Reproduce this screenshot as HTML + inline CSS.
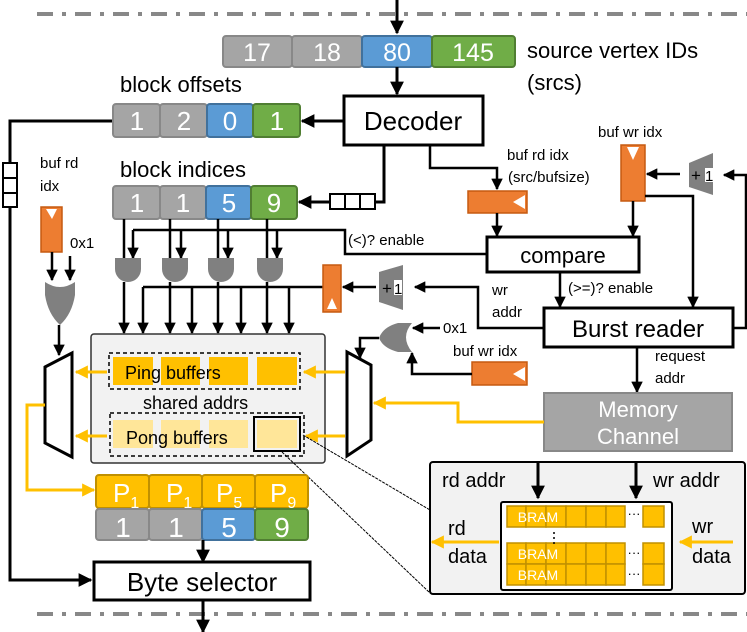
<!DOCTYPE html>
<html><head><meta charset="utf-8"><style>
html,body{margin:0;padding:0;background:#fff}
svg{display:block;font-family:"Liberation Sans",Arial,sans-serif}
</style></head><body>
<svg width="747" height="632" viewBox="0 0 747 632" xmlns="http://www.w3.org/2000/svg">
<defs>
<marker id="a" viewBox="0 0 10 10" refX="9" refY="5" markerWidth="4.6" markerHeight="4.6" orient="auto-start-reverse" markerUnits="strokeWidth"><path d="M0,0L10,5L0,10z" fill="#000"/></marker>
<marker id="y" viewBox="0 0 10 10" refX="9" refY="5" markerWidth="4.4" markerHeight="4.4" orient="auto-start-reverse" markerUnits="strokeWidth"><path d="M0,0L10,5L0,10z" fill="#ffc000"/></marker>
</defs>
<line x1="37" y1="14" x2="747" y2="14" stroke="#888" stroke-width="4" stroke-dasharray="16,9,4,9"/>
<line x1="37" y1="614" x2="747" y2="614" stroke="#888" stroke-width="4" stroke-dasharray="16,9,4,9"/>
<line x1="397" y1="0" x2="397" y2="33" stroke="#000" stroke-width="3" marker-end="url(#a)"/>
<g stroke-width="2">
<rect x="223" y="36" width="69" height="31" rx="3" fill="#a5a5a5" stroke="#888"/>
<rect x="292" y="36" width="70" height="31" rx="3" fill="#a5a5a5" stroke="#888"/>
<rect x="362" y="36" width="70" height="31" rx="3" fill="#5b9bd5" stroke="#41719c"/>
<rect x="432" y="36" width="83" height="31" rx="3" fill="#70ad47" stroke="#507e32"/>
</g>
<g fill="#fff" font-size="25" text-anchor="middle">
<text x="257" y="61">17</text><text x="327" y="61">18</text><text x="397" y="61">80</text><text x="473" y="61">145</text>
</g>
<text x="527" y="58" font-size="22">source vertex IDs</text>
<text x="527" y="90" font-size="22">(srcs)</text>
<line x1="397" y1="67" x2="397" y2="94" stroke="#000" stroke-width="3" marker-end="url(#a)"/>
<rect x="344" y="96" width="139" height="49" fill="#fff" stroke="#000" stroke-width="3"/>
<text x="413" y="130" font-size="26" text-anchor="middle">Decoder</text>
<text x="120" y="92" font-size="22">block offsets</text>
<g stroke-width="2">
<rect x="113" y="104" width="47" height="33" rx="3" fill="#a5a5a5" stroke="#888"/>
<rect x="160" y="104" width="47" height="33" rx="3" fill="#a5a5a5" stroke="#888"/>
<rect x="207" y="104" width="46" height="33" rx="3" fill="#5b9bd5" stroke="#41719c"/>
<rect x="253" y="104" width="47" height="33" rx="3" fill="#70ad47" stroke="#507e32"/>
</g>
<g fill="#fff" font-size="26" text-anchor="middle">
<text x="137" y="130">1</text><text x="184" y="130">2</text><text x="230" y="130">0</text><text x="277" y="130">1</text>
</g>
<line x1="343" y1="121" x2="302" y2="121" stroke="#000" stroke-width="3" marker-end="url(#a)"/>
<polyline points="112,121 10,121 10,580 91,580" fill="none" stroke="#000" stroke-width="3" marker-end="url(#a)"/>
<g fill="#fff" stroke="#000" stroke-width="2"><rect x="3" y="163" width="14" height="15"/><rect x="3" y="178" width="14" height="15"/><rect x="3" y="193" width="14" height="14"/></g>
<text x="120" y="177" font-size="22">block indices</text>
<g stroke-width="2">
<rect x="113" y="186" width="47" height="33" rx="3" fill="#a5a5a5" stroke="#888"/>
<rect x="160" y="186" width="46" height="33" rx="3" fill="#a5a5a5" stroke="#888"/>
<rect x="206" y="186" width="45" height="33" rx="3" fill="#5b9bd5" stroke="#41719c"/>
<rect x="251" y="186" width="46" height="33" rx="3" fill="#70ad47" stroke="#507e32"/>
</g>
<g fill="#fff" font-size="26" text-anchor="middle">
<text x="137" y="212">1</text><text x="183" y="212">1</text><text x="229" y="212">5</text><text x="274" y="212">9</text>
</g>
<polyline points="384,145 384,202 375,202" fill="none" stroke="#000" stroke-width="3"/>
<g fill="#fff" stroke="#000" stroke-width="2"><rect x="330" y="194" width="15" height="15"/><rect x="345" y="194" width="15" height="15"/><rect x="360" y="194" width="15" height="15"/></g>
<line x1="330" y1="202" x2="299" y2="202" stroke="#000" stroke-width="3" marker-end="url(#a)"/>
<polyline points="430,145 430,168 497,168 497,189" fill="none" stroke="#000" stroke-width="2.5" marker-end="url(#a)"/>
<text x="507" y="160" font-size="15">buf rd idx</text>
<text x="508" y="182" font-size="15">(src/bufsize)</text>
<rect x="468" y="191" width="59" height="22" fill="#ed7d31" stroke="#c55a11" stroke-width="1.5"/>
<path d="M525,195 L513,202 L525,209z" fill="#fff"/>
<line x1="497" y1="213" x2="497" y2="236" stroke="#000" stroke-width="2.5" marker-end="url(#a)"/>
<rect x="487" y="237" width="152" height="35" fill="#fff" stroke="#000" stroke-width="3"/>
<text x="563" y="263" font-size="22" text-anchor="middle">compare</text>
<text x="348" y="245" font-size="15">(&lt;)? enable</text>
<polyline points="486,254 345,254 345,230 133,230" fill="none" stroke="#000" stroke-width="2.5"/>
<g stroke="#000" stroke-width="2.5" marker-end="url(#a)">
<line x1="133" y1="230" x2="133" y2="258"/><line x1="181" y1="230" x2="181" y2="258"/><line x1="228" y1="230" x2="228" y2="258"/><line x1="277" y1="230" x2="277" y2="258"/>
</g>
<g stroke="#000" stroke-width="2.5" fill="none">
<line x1="124" y1="219" x2="124" y2="258"/><line x1="170" y1="219" x2="170" y2="258"/><line x1="218" y1="219" x2="218" y2="258"/><line x1="267" y1="219" x2="267" y2="258"/>
</g>
<g fill="#808080">
<path d="M115,258 H141 V269 A13,13 0 0 1 115,269 Z"/>
<path d="M162,258 H188 V269 A13,13 0 0 1 162,269 Z"/>
<path d="M208,258 H234 V269 A13,13 0 0 1 208,269 Z"/>
<path d="M257,258 H283 V269 A13,13 0 0 1 257,269 Z"/>
</g>
<polyline points="323,287 143,287" fill="none" stroke="#000" stroke-width="2.5"/>
<g stroke="#000" stroke-width="2.5" marker-end="url(#a)">
<line x1="124" y1="282" x2="124" y2="333"/><line x1="170" y1="282" x2="170" y2="333"/><line x1="218" y1="282" x2="218" y2="333"/><line x1="267" y1="282" x2="267" y2="333"/>
<line x1="143" y1="287" x2="143" y2="333"/><line x1="192" y1="287" x2="192" y2="333"/><line x1="241" y1="287" x2="241" y2="333"/><line x1="289" y1="287" x2="289" y2="333"/>
</g>
<rect x="323" y="265" width="18" height="47" fill="#ed7d31" stroke="#c55a11" stroke-width="1.5"/>
<path d="M327,309 L332,298 L337,309z" fill="#fff"/>
<path d="M379,272 L403,265 L403,310 L379,302 Z" fill="#808080"/>
<text x="382" y="294" font-size="17">+</text><rect x="394" y="280" width="8" height="15" fill="#fff"/><text x="394" y="294" font-size="15">1</text>
<line x1="376" y1="287" x2="343" y2="287" stroke="#000" stroke-width="2.5" marker-end="url(#a)"/>
<polyline points="543,328 478,328 478,287 415,287" fill="none" stroke="#000" stroke-width="2.5" marker-end="url(#a)"/>
<text x="492" y="295" font-size="15">wr</text>
<text x="492" y="317" font-size="15">addr</text>
<line x1="560" y1="272" x2="560" y2="307" stroke="#000" stroke-width="2.5" marker-end="url(#a)"/>
<text x="568" y="293" font-size="15">(&gt;=)? enable</text>
<rect x="544" y="308" width="189" height="39" fill="#fff" stroke="#000" stroke-width="3"/>
<text x="638" y="337" font-size="24" text-anchor="middle">Burst reader</text>
<text x="598" y="137" font-size="15">buf wr idx</text>
<rect x="621" y="145" width="24" height="56" fill="#ed7d31" stroke="#c55a11" stroke-width="1.5"/>
<path d="M627,147 L633,160 L639,147z" fill="#fff"/>
<path d="M689,163 L713,153 L713,195 L689,187 Z" fill="#808080"/>
<text x="691" y="181" font-size="17">+</text><rect x="705" y="168" width="8" height="14" fill="#fff"/><text x="705" y="181" font-size="15">1</text>
<line x1="680" y1="174" x2="647" y2="174" stroke="#000" stroke-width="2.5" marker-end="url(#a)"/>
<polyline points="733,328 746,328 746,175 724,175" fill="none" stroke="#000" stroke-width="2.5" marker-end="url(#a)"/>
<line x1="633" y1="201" x2="633" y2="236" stroke="#000" stroke-width="2.5" marker-end="url(#a)"/>
<polyline points="645,196 693,196 693,307" fill="none" stroke="#000" stroke-width="2.5" marker-end="url(#a)"/>
<line x1="637" y1="347" x2="637" y2="392" stroke="#000" stroke-width="2.5" marker-end="url(#a)"/>
<text x="655" y="361" font-size="15">request</text>
<text x="655" y="383" font-size="15">addr</text>
<rect x="544" y="393" width="188" height="58" fill="#a5a5a5" stroke="#888" stroke-width="2"/>
<text x="638" y="417" font-size="22" fill="#fff" text-anchor="middle">Memory</text>
<text x="638" y="444" font-size="22" fill="#fff" text-anchor="middle">Channel</text>
<polyline points="544,422 458,422 458,403 374,403" fill="none" stroke="#ffc000" stroke-width="3" marker-end="url(#y)"/>
<path d="M412,323 Q400,337 412,352 L398,352 Q383,348 379,338 Q383,327 398,323 Z" fill="#808080"/>
<text x="443" y="333" font-size="15">0x1</text>
<line x1="440" y1="328" x2="413" y2="328" stroke="#000" stroke-width="2.5" marker-end="url(#a)"/>
<text x="453" y="356" font-size="15">buf wr idx</text>
<rect x="472" y="362" width="55" height="23" fill="#ed7d31" stroke="#c55a11" stroke-width="1.5"/>
<path d="M525,367 L513,374 L525,381z" fill="#fff"/>
<polyline points="472,374 412,374 412,353" fill="none" stroke="#000" stroke-width="2.5" marker-end="url(#a)"/>
<polyline points="379,338 360,338 360,358" fill="none" stroke="#000" stroke-width="2.5" marker-end="url(#a)"/>
<path d="M347,352 L371,365 L371,440 L347,456 Z" fill="#fff" stroke="#000" stroke-width="3"/>
<text x="40" y="168" font-size="15">buf rd</text>
<text x="40" y="191" font-size="15">idx</text>
<rect x="41" y="207" width="21" height="45" fill="#ed7d31" stroke="#c55a11" stroke-width="1.5"/>
<path d="M46,209 L52,219 L57,209z" fill="#fff"/>
<text x="70" y="248" font-size="15">0x1</text>
<line x1="52" y1="252" x2="52" y2="280" stroke="#000" stroke-width="2.5" marker-end="url(#a)"/>
<line x1="70" y1="256" x2="70" y2="280" stroke="#000" stroke-width="2.5" marker-end="url(#a)"/>
<path d="M45,282 Q60,292 75,282 L75,295 Q72,314 60,325 Q48,314 45,295 Z" fill="#808080"/>
<line x1="59" y1="325" x2="59" y2="355" stroke="#000" stroke-width="2.5" marker-end="url(#a)"/>
<path d="M45,367 L72,353 L72,457 L45,443 Z" fill="#fff" stroke="#000" stroke-width="3"/>
<rect x="91" y="334" width="234" height="129" rx="3" fill="#f2f2f2" stroke="#333" stroke-width="1.5"/>
<g fill="#ffc000"><rect x="113" y="357" width="40" height="28"/><rect x="161" y="357" width="39" height="28"/><rect x="209" y="357" width="39" height="28"/><rect x="257" y="357" width="40" height="28"/></g>
<rect x="109" y="353" width="191" height="36" fill="none" stroke="#000" stroke-width="1.5" stroke-dasharray="4,3"/>
<text x="125" y="379" font-size="18">Ping buffers</text>
<text x="143" y="409" font-size="18">shared addrs</text>
<g fill="#ffe699"><rect x="113" y="420" width="40" height="28"/><rect x="161" y="420" width="39" height="28"/><rect x="209" y="420" width="39" height="28"/><rect x="257" y="420" width="40" height="28"/></g>
<rect x="254" y="417" width="46" height="34" fill="none" stroke="#000" stroke-width="2"/>
<rect x="110" y="413" width="194" height="43" fill="none" stroke="#000" stroke-width="1.5" stroke-dasharray="4,3"/>
<text x="126" y="444" font-size="18">Pong buffers</text>
<g stroke="#ffc000" stroke-width="3">
<line x1="107" y1="372" x2="76" y2="372" marker-end="url(#y)"/>
<line x1="107" y1="436" x2="76" y2="436" marker-end="url(#y)"/>
<line x1="345" y1="372" x2="304" y2="372" marker-end="url(#y)"/>
<line x1="345" y1="436" x2="306" y2="436" marker-end="url(#y)"/>
</g>
<polyline points="45,405 27,405 27,490 94,490" fill="none" stroke="#ffc000" stroke-width="3" marker-end="url(#y)"/>
<line x1="303" y1="435" x2="430" y2="510" stroke="#000" stroke-width="1" stroke-dasharray="3,1"/>
<line x1="282" y1="452" x2="430" y2="593" stroke="#000" stroke-width="1" stroke-dasharray="3,1"/>
<g fill="#ffc000" stroke="#c09000" stroke-width="2">
<rect x="96" y="475" width="53" height="33" rx="3"/><rect x="149" y="475" width="53" height="33" rx="3"/><rect x="202" y="475" width="53" height="33" rx="3"/><rect x="255" y="475" width="53" height="33" rx="3"/>
</g>
<g fill="#fff" font-size="26">
<text x="113" y="502">P<tspan font-size="16" dy="6">1</tspan></text>
<text x="166" y="502">P<tspan font-size="16" dy="6">1</tspan></text>
<text x="216" y="502">P<tspan font-size="16" dy="6">5</tspan></text>
<text x="270" y="502">P<tspan font-size="16" dy="6">9</tspan></text>
</g>
<g stroke-width="2">
<rect x="96" y="509" width="53" height="31" rx="3" fill="#a5a5a5" stroke="#888"/>
<rect x="149" y="509" width="53" height="31" rx="3" fill="#a5a5a5" stroke="#888"/>
<rect x="202" y="509" width="53" height="31" rx="3" fill="#5b9bd5" stroke="#41719c"/>
<rect x="255" y="509" width="53" height="31" rx="3" fill="#70ad47" stroke="#507e32"/>
</g>
<g fill="#fff" font-size="28" text-anchor="middle">
<text x="123" y="537">1</text><text x="176" y="537">1</text><text x="229" y="537">5</text><text x="282" y="537">9</text>
</g>
<line x1="203" y1="540" x2="203" y2="562" stroke="#000" stroke-width="3" marker-end="url(#a)"/>
<rect x="94" y="562" width="216" height="38" fill="#fff" stroke="#000" stroke-width="3"/>
<text x="202" y="591" font-size="26" text-anchor="middle">Byte selector</text>
<line x1="203" y1="600" x2="203" y2="632" stroke="#000" stroke-width="3" marker-end="url(#a)"/>
<rect x="430" y="462" width="315" height="132" rx="3" fill="#f2f2f2" stroke="#000" stroke-width="2"/>
<text x="442" y="487" font-size="20">rd addr</text>
<text x="653" y="487" font-size="20">wr addr</text>
<line x1="538" y1="462" x2="538" y2="498" stroke="#000" stroke-width="3" marker-end="url(#a)"/>
<line x1="636" y1="462" x2="636" y2="498" stroke="#000" stroke-width="3" marker-end="url(#a)"/>
<rect x="501" y="502" width="171" height="88" rx="2" fill="#fff" stroke="#000" stroke-width="2"/>
<g fill="#ffc000" stroke="#c09000" stroke-width="1.5">
<rect x="507" y="506" width="19" height="21"/><rect x="526" y="506" width="20" height="21"/><rect x="546" y="506" width="20" height="21"/><rect x="566" y="506" width="20" height="21"/><rect x="586" y="506" width="20" height="21"/><rect x="606" y="506" width="19" height="21"/><rect x="643" y="506" width="21" height="21"/>
<rect x="507" y="543" width="19" height="21"/><rect x="526" y="543" width="20" height="21"/><rect x="546" y="543" width="20" height="21"/><rect x="566" y="543" width="20" height="21"/><rect x="586" y="543" width="20" height="21"/><rect x="606" y="543" width="19" height="21"/><rect x="643" y="543" width="21" height="21"/>
<rect x="507" y="564" width="19" height="21"/><rect x="526" y="564" width="20" height="21"/><rect x="546" y="564" width="20" height="21"/><rect x="566" y="564" width="20" height="21"/><rect x="586" y="564" width="20" height="21"/><rect x="606" y="564" width="19" height="21"/><rect x="643" y="564" width="21" height="21"/>
</g>
<g fill="#fff" font-size="14" text-anchor="middle">
<text x="538" y="522">BRAM</text><text x="538" y="559">BRAM</text><text x="538" y="580">BRAM</text>
</g>
<g font-size="13" text-anchor="middle"><text x="634" y="518">···</text><text x="634" y="557">···</text><text x="634" y="578">···</text></g>
<g fill="#000"><circle cx="554" cy="533" r="1"/><circle cx="554" cy="538" r="1"/><circle cx="554" cy="543" r="1"/></g>
<text x="448" y="535" font-size="20">rd</text>
<text x="448" y="563" font-size="20">data</text>
<line x1="499" y1="542" x2="432" y2="542" stroke="#ffc000" stroke-width="3" marker-end="url(#y)"/>
<text x="692" y="533" font-size="20">wr</text>
<text x="692" y="563" font-size="20">data</text>
<line x1="733" y1="542" x2="680" y2="542" stroke="#ffc000" stroke-width="3" marker-end="url(#y)"/>
</svg>
</body></html>
